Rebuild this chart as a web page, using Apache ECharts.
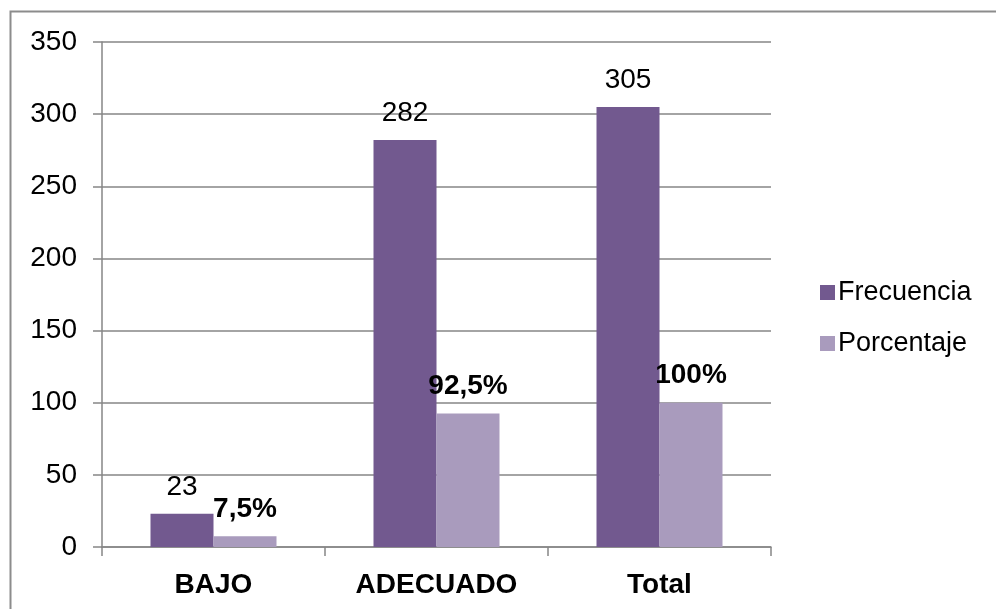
<!DOCTYPE html>
<html>
<head>
<meta charset="utf-8">
<script src="https://cdn.jsdelivr.net/npm/echarts@6/dist/echarts.min.js"></script>
<style>
  html, body { margin: 0; padding: 0; background: #fff; }
  #chart { width: 996px; height: 609px; }
</style>
</head>
<body>
<div id="chart"></div>
<script>
// data
const categories = ['BAJO', 'ADECUADO', 'Total'];
const frecuencia = [23, 282, 305];
const porcentaje = [7.5, 92.5, 100];
const yTicks = { min: 0, max: 350, interval: 50 };

const chart = echarts.init(document.getElementById('chart'));
const gray = '#868686';
const font = '"Liberation Sans", Arial, sans-serif';

const option = {
  animation: false,
  textStyle: { fontFamily: font },
  graphic: [{
    type: 'rect',
    silent: true,
    z: -1,
    shape: { x: 10.5, y: 11.5, width: 1200, height: 800 },
    style: { fill: 'none', stroke: '#8c8c8c', lineWidth: 2 }
  }],
  grid: { left: 102, top: 42, right: 225, bottom: 62 },
  legend: {
    orient: 'vertical',
    left: 815,
    top: 274,
    itemWidth: 15,
    itemHeight: 15,
    itemGap: 24,
    icon: 'rect',
    textStyle: { fontSize: 27, color: '#000', fontFamily: font, padding: [0, 0, 0, -2] },
    data: ['Frecuencia', 'Porcentaje']
  },
  xAxis: {
    type: 'category',
    data: categories,
    axisLine: { lineStyle: { color: gray, width: 1.5 } },
    axisTick: { show: true, length: 9, lineStyle: { color: gray, width: 1.5 } },
    axisLabel: { color: '#000', fontSize: 28, fontWeight: 'bold', margin: 24, fontFamily: font }
  },
  yAxis: {
    type: 'value',
    min: yTicks.min,
    max: yTicks.max,
    interval: yTicks.interval,
    axisLine: { show: true, lineStyle: { color: gray, width: 1.5 } },
    axisTick: { show: true, length: 9, lineStyle: { color: gray, width: 1.5 } },
    splitLine: { lineStyle: { color: gray, width: 1.5 } },
    axisLabel: { color: '#000', fontSize: 28, margin: 25, fontFamily: font }
  },
  series: [
    {
      name: 'Frecuencia',
      type: 'bar',
      data: frecuencia,
      barWidth: 63,
      barGap: '0%',
      itemStyle: { color: '#72598f' },
      label: {
        show: true,
        position: 'top',
        distance: 13,
        color: '#000',
        fontSize: 28,
        fontFamily: font
      }
    },
    {
      name: 'Porcentaje',
      type: 'bar',
      data: porcentaje,
      barWidth: 63,
      barGap: '0%',
      itemStyle: { color: '#a99bbd' },
      label: {
        show: true,
        position: 'top',
        distance: 13,
        color: '#000',
        fontSize: 28,
        fontWeight: 'bold',
        fontFamily: font,
        formatter: p => String(p.value).replace('.', ',') + '%'
      }
    }
  ]
};

chart.setOption(option);
</script>
</body>
</html>
